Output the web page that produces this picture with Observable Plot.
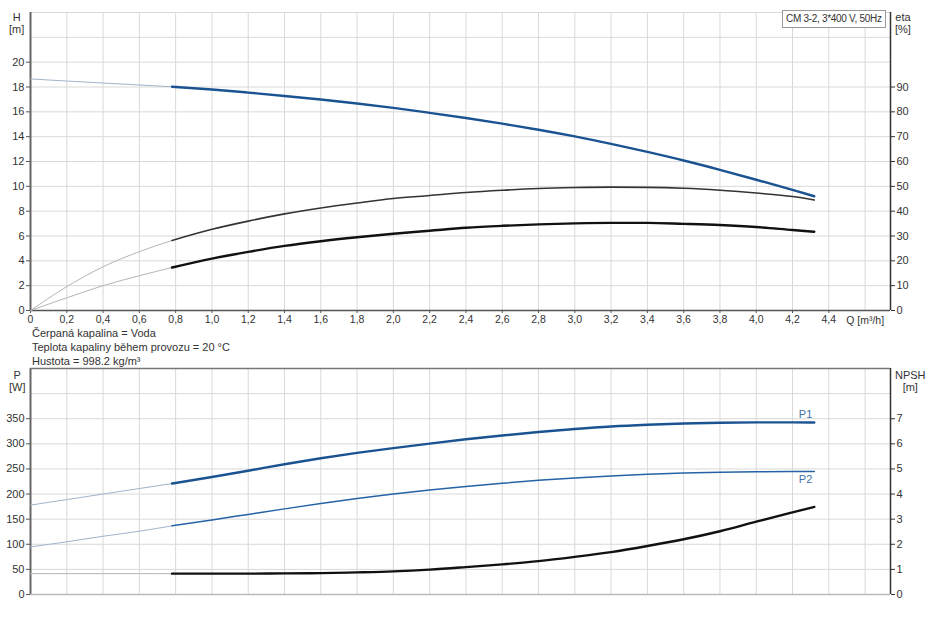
<!DOCTYPE html>
<html><head><meta charset="utf-8">
<script src="https://cdn.jsdelivr.net/npm/d3@7"></script>
<script src="https://cdn.jsdelivr.net/npm/@observablehq/plot@0.6"></script>
<style>
body{margin:0;background:#fff;font-family:"Liberation Sans",Arial,sans-serif;}
#wrap{position:relative;width:930px;height:623px;overflow:hidden;}
.abs{position:absolute;font-size:11px;color:#333;line-height:12px;white-space:nowrap;}
.c{text-align:center;}
</style></head><body><div id="wrap">
<div id="topChart" style="position:absolute;left:0;top:0;"></div>
<div id="botChart" style="position:absolute;left:0;top:364px;"></div>
</div>
<script>
// ---- data ----
const qExt = [0, 0.2, 0.4, 0.6, 0.78];
const qMain = [0.78, 1.0, 1.2, 1.4, 1.6, 1.8, 2.0, 2.2, 2.4, 2.6, 2.8, 3.0, 3.2, 3.4, 3.6, 3.8, 4.0, 4.2, 4.32];

const headExt  = [18.65, 18.48, 18.32, 18.16, 18.02];
const headMain = [18.02, 17.8, 17.55, 17.28, 16.99, 16.67, 16.32, 15.92, 15.5, 15.05, 14.56, 14.02, 13.42, 12.77, 12.08, 11.33, 10.53, 9.71, 9.2];

const etaPumpExt  = [0, 9.6, 17.6, 23.7, 28.2];
const etaPumpMain = [28.2, 32.7, 36.0, 38.9, 41.3, 43.3, 45.1, 46.3, 47.5, 48.4, 49.1, 49.5, 49.7, 49.6, 49.2, 48.4, 47.3, 45.9, 44.5];

const etaTotExt  = [0, 5.1, 10.0, 14.0, 17.3];
const etaTotMain = [17.3, 20.9, 23.6, 26.0, 27.9, 29.5, 30.9, 32.1, 33.3, 34.1, 34.7, 35.1, 35.3, 35.3, 34.9, 34.4, 33.6, 32.4, 31.7];

const p1Ext  = [178, 189, 200, 211, 221];
const p1Main = [221, 234, 246.5, 259.3, 271.3, 282, 291.5, 300.5, 309, 316.5, 323.5, 329.5, 334.5, 338, 340.5, 342, 342.7, 342.8, 342.5];

const p2Ext  = [94.7, 105, 116, 126, 136.7];
const p2Main = [136.7, 148.5, 159.5, 170.5, 181, 191, 200, 208, 215, 221.5, 227.3, 232, 236, 239.5, 242, 243.5, 244.5, 244.8, 244.8];

const npshExt  = [0.83, 0.83, 0.83, 0.83, 0.83];
const npshMain = [0.83, 0.83, 0.83, 0.84, 0.85, 0.88, 0.92, 0.99, 1.09, 1.2, 1.33, 1.5, 1.69, 1.93, 2.2, 2.52, 2.9, 3.27, 3.49];

const xTicks = [0, 0.2, 0.4, 0.6, 0.8, 1.0, 1.2, 1.4, 1.6, 1.8, 2.0, 2.2, 2.4, 2.6, 2.8, 3.0, 3.2, 3.4, 3.6, 3.8, 4.0, 4.2, 4.4];
const xTickLabels = ["0","0,2","0,4","0,6","0,8","1,0","1,2","1,4","1,6","1,8","2,0","2,2","2,4","2,6","2,8","3,0","3,2","3,4","3,6","3,8","4,0","4,2","4,4"];
const xGrid = [0.2, 0.4, 0.6, 0.8, 1.0, 1.2, 1.4, 1.6, 1.8, 2.0, 2.2, 2.4, 2.6, 2.8, 3.0, 3.2, 3.4, 3.6, 3.8, 4.0, 4.2, 4.4, 4.6];
const hTicks = [0, 2, 4, 6, 8, 10, 12, 14, 16, 18, 20];
const hGrid = [2, 4, 6, 8, 10, 12, 14, 16, 18, 20, 22, 24];
const etaTicks = [0, 10, 20, 30, 40, 50, 60, 70, 80, 90];
const pTicks = [0, 50, 100, 150, 200, 250, 300, 350];
const pGrid = [50, 100, 150, 200, 250, 300, 350, 400];
const npshTicks = [0, 1, 2, 3, 4, 5, 6, 7];

const xMax = 4.74, hMax = 24, pMax = 450;
const ETA_PER_M = 5;     // eta [%] per H [m] on the shared scale
const W_PER_NPSH = 50;   // P [W] per NPSH [m] on the shared scale

const zip = (qs, vs) => qs.map((q, i) => ({q, v: vs[i]}));
const font = "Liberation Sans, Arial, sans-serif";
const blue = "#1b5392";
const extBlue = "#9fb3cc";
const extGray = "#b5b5b5";
const CURVE = "monotone-x";

// ---- top chart ----
const labelOf = new Map(xTicks.map((t, i) => [t, xTickLabels[i]]));
const topPlot = Plot.plot({
  width: 930, height: 330,
  marginLeft: 30, marginRight: 40, marginTop: 12, marginBottom: 20,
  style: {fontFamily: font, fontSize: "10.5px", color: "#333", background: "#fff"},
  x: {domain: [0, xMax]},
  y: {domain: [0, hMax]},
  marks: [
    Plot.gridX(xGrid, {stroke: "#d9d9d9", strokeOpacity: 1}),
    Plot.gridY(hGrid, {stroke: "#d9d9d9", strokeOpacity: 1}),
    Plot.axisX(xTicks, {tickSize: 3, tickPadding: 2, tickFormat: d => labelOf.get(d), stroke: "#555", fontSize: 10.5, label: null}),
    Plot.axisY(hTicks, {anchor: "left", tickSize: 4, tickPadding: 2, stroke: "#555", fontSize: 11, label: null}),
    Plot.axisY(etaTicks.map(e => e / ETA_PER_M), {anchor: "right", tickSize: 4, tickPadding: 2, stroke: "#333", fontSize: 11, label: null, tickFormat: d => String(Math.round(d * ETA_PER_M))}),
    Plot.ruleX([0], {stroke: "#666", strokeWidth: 2}),
    Plot.ruleX([xMax], {stroke: "#333", strokeWidth: 1.5}),
    Plot.ruleY([0], {stroke: "#555", strokeWidth: 1.5}),
    // extrapolated parts
    Plot.line(zip(qExt, headExt), {x: "q", y: "v", stroke: extBlue, strokeWidth: 1, curve: CURVE}),
    Plot.line(zip(qExt, etaPumpExt), {x: "q", y: d => d.v / ETA_PER_M, stroke: extGray, strokeWidth: 1, curve: CURVE}),
    Plot.line(zip(qExt, etaTotExt), {x: "q", y: d => d.v / ETA_PER_M, stroke: extGray, strokeWidth: 1, curve: CURVE}),
    // main parts
    Plot.line(zip(qMain, etaPumpMain), {x: "q", y: d => d.v / ETA_PER_M, stroke: "#333", strokeWidth: 1.6, curve: CURVE}),
    Plot.line(zip(qMain, etaTotMain), {x: "q", y: d => d.v / ETA_PER_M, stroke: "#111", strokeWidth: 2.4, curve: CURVE}),
    Plot.line(zip(qMain, headMain), {x: "q", y: "v", stroke: blue, strokeWidth: 2.4, curve: CURVE}),
    Plot.text(["Q [m³/h]"], {x: 4.6, y: 0, text: d => d, dy: 10, fontSize: 10.5, fill: "#333"})
  ]
});
document.getElementById("topChart").appendChild(topPlot);

// ---- bottom chart ----
const botPlot = Plot.plot({
  width: 930, height: 240,
  marginLeft: 30, marginRight: 40, marginTop: 4, marginBottom: 10,
  style: {fontFamily: font, fontSize: "11px", color: "#333", background: "#fff"},
  x: {domain: [0, xMax], axis: null},
  y: {domain: [0, pMax]},
  marks: [
    Plot.gridX(xGrid, {stroke: "#d9d9d9", strokeOpacity: 1}),
    Plot.gridY(pGrid, {stroke: "#d9d9d9", strokeOpacity: 1}),
    Plot.axisY(pTicks, {anchor: "left", tickSize: 4, tickPadding: 2, stroke: "#555", fontSize: 11, label: null}),
    Plot.axisY(npshTicks.map(n => n * W_PER_NPSH), {anchor: "right", tickSize: 4, tickPadding: 2, stroke: "#333", fontSize: 11, label: null, tickFormat: d => String(Math.round(d / W_PER_NPSH))}),
    Plot.ruleX([0], {stroke: "#666", strokeWidth: 2}),
    Plot.ruleX([xMax], {stroke: "#333", strokeWidth: 1.5}),
    Plot.ruleY([0], {stroke: "#bbb", strokeWidth: 1.5}),
    Plot.ruleY([pMax], {stroke: "#777", strokeWidth: 1.5}),
    Plot.line(zip(qExt, p1Ext), {x: "q", y: "v", stroke: extBlue, strokeWidth: 1, curve: CURVE}),
    Plot.line(zip(qExt, p2Ext), {x: "q", y: "v", stroke: extBlue, strokeWidth: 1, curve: CURVE}),
    Plot.line(zip(qExt, npshExt), {x: "q", y: d => d.v * W_PER_NPSH, stroke: extGray, strokeWidth: 1, curve: CURVE}),
    Plot.line(zip(qMain, p1Main), {x: "q", y: "v", stroke: blue, strokeWidth: 2.4, curve: CURVE}),
    Plot.line(zip(qMain, p2Main), {x: "q", y: "v", stroke: "#2563a6", strokeWidth: 1.5, curve: CURVE}),
    Plot.line(zip(qMain, npshMain), {x: "q", y: d => d.v * W_PER_NPSH, stroke: "#111", strokeWidth: 2.4, curve: CURVE}),
    Plot.text([{q: qMain[qMain.length - 1], v: p1Main[p1Main.length - 1], t: "P1"}], {x: "q", y: "v", text: "t", dy: -8, dx: -2, textAnchor: "end", fill: "#3f70a8", fontSize: 11}),
    Plot.text([{q: qMain[qMain.length - 1], v: p2Main[p2Main.length - 1], t: "P2"}], {x: "q", y: "v", text: "t", dy: 8, dx: -2, textAnchor: "end", fill: "#3f70a8", fontSize: 11})
  ]
});
document.getElementById("botChart").appendChild(botPlot);

// ---- texts ----
const wrap = document.getElementById("wrap");
function addText(html, left, topPx, cls) {
  const d = document.createElement("div");
  d.className = "abs " + (cls || "");
  d.style.left = left + "px"; d.style.top = topPx + "px";
  d.innerHTML = html;
  wrap.appendChild(d);
  return d;
}
addText("H<br>[m]", 9, 11, "c");
addText("eta<br>[%]", 895, 11, "c");
addText("P<br>[W]", 9, 369, "c");
addText("NPSH<br>[m]", 895, 369, "c");
addText("Čerpaná kapalina = Voda", 32, 327);
addText("Teplota kapaliny během provozu = 20 °C", 32, 341);
addText("Hustota = 998.2 kg/m³", 32, 355);
const box = addText("CM 3-2, 3*400 V, 50Hz", 782, 10);
box.style.border = "1px solid #999";
box.style.background = "#fff";
box.style.padding = "2px 3px";
box.style.fontSize = "10px";
box.style.letterSpacing = "-0.3px";
</script>
</body></html>
